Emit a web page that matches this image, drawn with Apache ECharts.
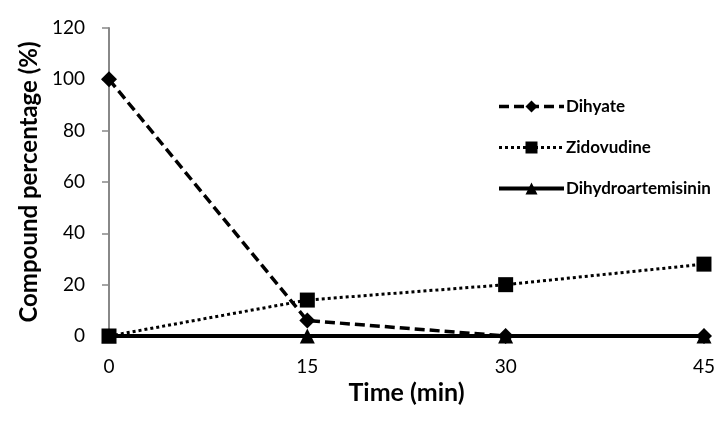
<!DOCTYPE html>
<html>
<head>
<meta charset="utf-8">
<script src="https://cdn.jsdelivr.net/npm/echarts@6/dist/echarts.min.js"></script>
<style>
  html, body { margin: 0; padding: 0; background: #fff; }
  #chart { width: 718px; height: 428px; }
</style>
</head>
<body>
<div id="chart"></div>
<script>
// Sampling times (min)
const times = [0, 15, 30, 45];
// Compound percentage (%) at each time
const dihyate = [100, 6, 0, 0];
const zidovudine = [0, 14, 20, 28];
const dihydroartemisinin = [0, 0, 0, 0];
const yTicks = [0, 20, 40, 60, 80, 100, 120];

const font = 'Lato, "Open Sans", sans-serif';

function pairs(vals) {
  return times.map((t, i) => [t, vals[i]]);
}

const styles = {
  Dihyate: { width: 3.5, type: [10, 5] },
  Zidovudine: { width: 3, type: [3, 3] },
  Dihydroartemisinin: { width: 4, type: 'solid' }
};

const chart = echarts.init(document.getElementById('chart'));
chart.setOption({
  animation: false,
  backgroundColor: '#fff',
  grid: { left: 109, right: 11, top: 28, bottom: 92 },
  legend: {
    orient: 'vertical',
    left: 497,
    top: 98,
    padding: 0,
    itemWidth: 65,
    itemHeight: 15,
    itemGap: 24,
    textStyle: { fontFamily: font, fontWeight: 'bold', fontSize: 17, color: '#000', lineHeight: 15, padding: [0, 0, 0, -3] },
    data: ['Dihyate', 'Zidovudine', 'Dihydroartemisinin'].map(n => ({
      name: n,
      lineStyle: { color: '#000', width: styles[n].width, type: styles[n].type }
    }))
  },
  xAxis: {
    type: 'value',
    min: 0, max: 45, interval: 15,
    name: 'Time (min)',
    nameLocation: 'middle',
    nameGap: 37,
    nameTextStyle: { fontFamily: font, fontWeight: 'bold', fontSize: 25, color: '#000' },
    axisLine: { show: true, lineStyle: { color: '#888', width: 2 } },
    axisTick: { show: false },
    splitLine: { show: false },
    axisLabel: { fontFamily: font, fontSize: 19, color: '#000', margin: 21 }
  },
  yAxis: {
    type: 'value',
    min: yTicks[0], max: yTicks[yTicks.length - 1], interval: 20,
    name: 'Compound percentage (%)',
    nameLocation: 'middle',
    nameGap: 67,
    nameTextStyle: { fontFamily: font, fontWeight: 'bold', fontSize: 24, color: '#000' },
    axisLine: { show: true, lineStyle: { color: '#888', width: 2 } },
    axisTick: { show: true, length: 7, lineStyle: { color: '#888', width: 1.5 } },
    splitLine: { show: false },
    axisLabel: { fontFamily: font, fontSize: 19, color: '#000', margin: 24 }
  },
  series: [
    {
      name: 'Dihydroartemisinin',
      type: 'line',
      data: pairs(dihydroartemisinin),
      symbol: 'triangle',
      symbolSize: 15,
      lineStyle: Object.assign({ color: '#000' }, styles.Dihydroartemisinin),
      itemStyle: { color: '#000' },
      z: 2
    },
    {
      name: 'Dihyate',
      type: 'line',
      data: pairs(dihyate),
      symbol: 'diamond',
      symbolSize: 16,
      lineStyle: Object.assign({ color: '#000' }, styles.Dihyate),
      itemStyle: { color: '#000' },
      z: 3
    },
    {
      name: 'Zidovudine',
      type: 'line',
      data: pairs(zidovudine),
      symbol: 'rect',
      symbolSize: 15,
      lineStyle: Object.assign({ color: '#000' }, styles.Zidovudine),
      itemStyle: { color: '#000' },
      z: 4
    }
  ]
});
</script>
</body>
</html>
